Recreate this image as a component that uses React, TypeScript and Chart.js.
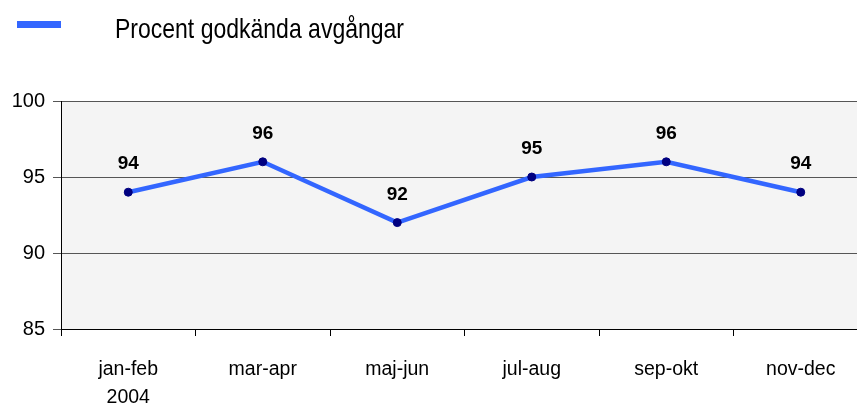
import React, { useEffect, useRef } from "react";
import { Chart, registerables } from "chart.js";

Chart.register(...registerables);

const categories: (string | string[])[] = [["jan-feb", "2004"], "mar-apr", "maj-jun", "jul-aug", "sep-okt", "nov-dec"];
const seriesLabel = "Procent godkända avgångar";
const values = [94, 96, 92, 95, 96, 94];
const yTicks = [85, 90, 95, 100];

const FONT = "'Liberation Sans', Arial, sans-serif";

export default function App() {
  const ref = useRef<HTMLCanvasElement | null>(null);
  useEffect(() => {
    if (!ref.current) return;
    const bgPlugin = {
      id: "bg",
      beforeDraw(chart: any) {
        const { ctx, chartArea } = chart;
        ctx.save();
        ctx.fillStyle = "#F4F4F4";
        ctx.fillRect(chartArea.left, chartArea.top, chartArea.right - chartArea.left, chartArea.bottom - chartArea.top);
        ctx.restore();
      },
    };
    const legendPlugin = {
      id: "legendCustom",
      afterDraw(chart: any) {
        const ctx = chart.ctx;
        ctx.save();
        ctx.fillStyle = "#3366FF";
        ctx.fillRect(17, 21, 44, 7);
        ctx.fillStyle = "#000";
        ctx.font = `23px ${FONT}`;
        ctx.textBaseline = "alphabetic";
        ctx.textAlign = "left";
        ctx.translate(115, 38);
        ctx.scale(1, 1.18);
        ctx.fillText(seriesLabel, 0, 0);
        ctx.restore();
      },
    };
    const labelPlugin = {
      id: "valueLabels",
      afterDatasetsDraw(chart: any) {
        const ctx = chart.ctx;
        const meta = chart.getDatasetMeta(0);
        ctx.save();
        ctx.fillStyle = "#000";
        ctx.font = `bold 19px ${FONT}`;
        ctx.textAlign = "center";
        ctx.textBaseline = "middle";
        meta.data.forEach((pt: any, i: number) => {
          ctx.fillText(String(values[i]), pt.x, pt.y - 28);
        });
        ctx.restore();
      },
    };
    const chart = new Chart(ref.current, {
      type: "line",
      data: {
        labels: categories,
        datasets: [
          {
            label: seriesLabel,
            data: values,
            borderColor: "#3366FF",
            borderWidth: 4.5,
            pointBackgroundColor: "#000080",
            pointBorderColor: "#000080",
            pointRadius: 4,
            pointBorderWidth: 1,
            tension: 0,
          },
        ],
      },
      options: {
        responsive: false,
        animation: false,
        devicePixelRatio: 1,
        layout: { padding: { top: 101, left: 0, right: 0, bottom: 0 } },
        plugins: { legend: { display: false }, tooltip: { enabled: false } },
        scales: {
          x: {
            offset: true,
            grid: {
              offset: true,
              drawOnChartArea: false,
              drawTicks: true,
              tickLength: 7,
              color: "#000",
              lineWidth: 1,
            },
            border: { color: "#000", width: 1 },
            ticks: {
              color: "#000",
              font: { family: FONT, size: 19.5, lineHeight: 1.45 },
              padding: 19,
              maxRotation: 0,
              autoSkip: false,
            },
            afterFit(scale: any) {
              scale.height = 77;
            },
          },
          y: {
            min: 85,
            max: 100,
            afterBuildTicks(scale: any) {
              scale.ticks = yTicks.map((v) => ({ value: v }));
            },
            grid: {
              color: "#555",
              lineWidth: 1,
              drawTicks: true,
              tickLength: 8,
            },
            border: { color: "#000", width: 1 },
            ticks: {
              color: "#000",
              font: { family: FONT, size: 20 },
              padding: 8,
            },
            afterFit(scale: any) {
              scale.width = 61;
            },
          },
        },
      },
      plugins: [bgPlugin, labelPlugin, legendPlugin],
    });
    return () => chart.destroy();
  }, []);
  return (
    <div style={{ position: "fixed", left: 0, top: 0, width: 857, height: 406, overflow: "hidden", background: "#fff" }}>
      <canvas ref={ref} width={873} height={406} style={{ display: "block", width: 873, height: 406 }} />
    </div>
  );
}
